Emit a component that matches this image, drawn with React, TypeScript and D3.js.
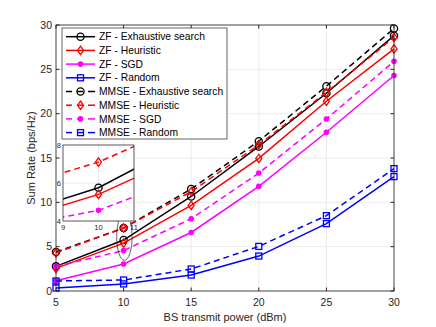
import React, { useEffect, useRef } from "react";
import * as d3 from "d3";

const power = [5, 10, 15, 20, 25, 30];

const zfExhaustive = [2.78, 5.75, 10.66, 16.3, 22.3, 28.8];
const zfHeuristic = [2.55, 5.4, 9.65, 14.95, 21.4, 27.3];
const zfSgd = [1.16, 3.04, 6.6, 11.8, 17.9, 24.3];
const zfRandom = [0.34, 0.8, 1.8, 3.94, 7.6, 12.9];
const mmseExhaustive = [4.4, 7.1, 11.5, 16.9, 23.1, 29.6];
const mmseHeuristic = [4.3, 7.1, 11.2, 16.5, 22.4, 28.6];
const mmseSgd = [2.78, 4.56, 8.15, 13.3, 19.4, 25.9];
const mmseRandom = [1.13, 1.24, 2.48, 5.03, 8.5, 13.8];

const xTicks = [5, 10, 15, 20, 25, 30];
const yTicks = [0, 5, 10, 15, 20, 25, 30];
const insetXTicks = [9, 10, 11];
const insetYTicks = [4, 6, 8];

const seriesNames = [
  "ZF - Exhaustive search",
  "ZF - Heuristic",
  "ZF - SGD",
  "ZF - Random",
  "MMSE - Exhaustive search",
  "MMSE - Heuristic",
  "MMSE - SGD",
  "MMSE - Random",
];
const seriesValues = [
  zfExhaustive,
  zfHeuristic,
  zfSgd,
  zfRandom,
  mmseExhaustive,
  mmseHeuristic,
  mmseSgd,
  mmseRandom,
];
const seriesColors = ["#000000", "#ff0000", "#ff00ff", "#0000ff", "#000000", "#ff0000", "#ff00ff", "#0000ff"];
const seriesMarkers = ["circle", "diamond", "dot", "square", "circle", "diamond", "dot", "square"];
const seriesDashed = [false, false, false, false, true, true, true, true];

type Sel = d3.Selection<SVGGElement, unknown, null, undefined>;

function drawMarker(g: Sel, kind: string, x: number, y: number, color: string) {
  if (kind === "circle") {
    g.append("circle").attr("cx", x).attr("cy", y).attr("r", 3.6)
      .attr("fill", "none").attr("stroke", color).attr("stroke-width", 1.3);
  } else if (kind === "diamond") {
    g.append("path")
      .attr("d", `M${x},${y - 4.2}L${x + 3},${y}L${x},${y + 4.2}L${x - 3},${y}Z`)
      .attr("fill", "none").attr("stroke", color).attr("stroke-width", 1.3);
  } else if (kind === "dot") {
    g.append("circle").attr("cx", x).attr("cy", y).attr("r", 2.8).attr("fill", color);
  } else {
    g.append("rect").attr("x", x - 3).attr("y", y - 3).attr("width", 6).attr("height", 6)
      .attr("fill", "none").attr("stroke", color).attr("stroke-width", 1.3);
  }
}

export default function App() {
  const ref = useRef<SVGSVGElement>(null);

  useEffect(() => {
    const svg = d3.select(ref.current);
    svg.selectAll("*").remove();
    const font = "'Liberation Sans', Arial, sans-serif";
    const axisColor = "#262626";

    const left = 56, right = 394, top = 25, bottom = 291;
    const x = d3.scaleLinear().domain([5, 30]).range([left, right]);
    const y = d3.scaleLinear().domain([0, 30]).range([bottom, top]);

    const root = svg.append("g") as unknown as Sel;

    // grid
    const grid = root.append("g").attr("stroke", "#e6e6e6").attr("stroke-width", 0.8);
    xTicks.forEach((t) => grid.append("line").attr("x1", x(t)).attr("x2", x(t)).attr("y1", top).attr("y2", bottom));
    yTicks.forEach((t) => grid.append("line").attr("x1", left).attr("x2", right).attr("y1", y(t)).attr("y2", y(t)));

    // series
    const plot = root.append("g");
    seriesValues.forEach((vals, i) => {
      const line = d3.line<number>().x((_, k) => x(power[k])).y((d) => y(d));
      plot.append("path").datum(vals).attr("d", line)
        .attr("fill", "none").attr("stroke", seriesColors[i]).attr("stroke-width", 1.5)
        .attr("stroke-dasharray", seriesDashed[i] ? "6,4" : null);
      vals.forEach((v, k) => drawMarker(plot as unknown as Sel, seriesMarkers[i], x(power[k]), y(v), seriesColors[i]));
    });

    // axes box and ticks
    const ax = root.append("g");
    ax.append("rect").attr("x", left).attr("y", top).attr("width", right - left).attr("height", bottom - top)
      .attr("fill", "none").attr("stroke", axisColor).attr("stroke-width", 0.8);
    xTicks.forEach((t) => {
      ax.append("line").attr("x1", x(t)).attr("x2", x(t)).attr("y1", bottom).attr("y2", bottom - 3.5).attr("stroke", axisColor);
      ax.append("line").attr("x1", x(t)).attr("x2", x(t)).attr("y1", top).attr("y2", top + 3.5).attr("stroke", axisColor);
      ax.append("text").attr("x", x(t)).attr("y", bottom + 15).attr("text-anchor", "middle")
        .attr("font-family", font).attr("font-size", 10.5).attr("fill", axisColor).text(t);
    });
    yTicks.forEach((t) => {
      ax.append("line").attr("x1", left).attr("x2", left + 3.5).attr("y1", y(t)).attr("y2", y(t)).attr("stroke", axisColor);
      ax.append("line").attr("x1", right).attr("x2", right - 3.5).attr("y1", y(t)).attr("y2", y(t)).attr("stroke", axisColor);
      ax.append("text").attr("x", left - 4).attr("y", y(t) + 3.8).attr("text-anchor", "end")
        .attr("font-family", font).attr("font-size", 10.5).attr("fill", axisColor).text(t);
    });
    ax.append("text").attr("x", (left + right) / 2).attr("y", 321).attr("text-anchor", "middle")
      .attr("font-family", font).attr("font-size", 11).attr("fill", axisColor).text("BS transmit power (dBm)");
    ax.append("text").attr("transform", `translate(35,${(top + bottom) / 2}) rotate(-90)`).attr("text-anchor", "middle")
      .attr("font-family", font).attr("font-size", 11).attr("fill", axisColor).text("Sum Rate (bps/Hz)");

    // ellipse and arrow
    const cx = x(10), cy = y(6.1);
    root.append("ellipse").attr("cx", cx + 0.8).attr("cy", cy).attr("rx", x(10.57) - x(10)).attr("ry", y(0) - y(2.65))
      .attr("fill", "none").attr("stroke", "#222").attr("stroke-width", 0.7);
    root.append("line").attr("x1", 117.5).attr("y1", 222).attr("x2", 108.5).attr("y2", 212)
      .attr("stroke", "#000").attr("stroke-width", 0.7);
    root.append("path").attr("d", "M105.5,208 L111,211 L107.6,214 Z").attr("fill", "#000");

    // inset
    const il = 63, ir = 134, it = 145, ib = 221;
    const ix = d3.scaleLinear().domain([9, 11]).range([il, ir]);
    const iy = d3.scaleLinear().domain([4, 8]).range([ib, it]);
    const inset = root.append("g");
    inset.append("rect").attr("x", il).attr("y", it).attr("width", ir - il).attr("height", ib - it).attr("fill", "#fff");
    const ig = inset.append("g").attr("stroke", "#e6e6e6").attr("stroke-width", 0.8);
    insetXTicks.forEach((t) => ig.append("line").attr("x1", ix(t)).attr("x2", ix(t)).attr("y1", it).attr("y2", ib));
    insetYTicks.forEach((t) => ig.append("line").attr("x1", il).attr("x2", ir).attr("y1", iy(t)).attr("y2", iy(t)));
    svg.append("defs").append("clipPath").attr("id", "insetClip").append("rect")
      .attr("x", il).attr("y", it).attr("width", ir - il).attr("height", ib - it);
    const ip = inset.append("g").attr("clip-path", "url(#insetClip)");
    [5, 0, 1, 6, 2].forEach((i) => {
      const vals = seriesValues[i];
      const line = d3.line<number>().x((_, k) => ix(power[k])).y((d) => iy(d));
      ip.append("path").datum(vals).attr("d", line)
        .attr("fill", "none").attr("stroke", seriesColors[i]).attr("stroke-width", 1.5)
        .attr("stroke-dasharray", seriesDashed[i] ? "6,4" : null);
      drawMarker(ip as unknown as Sel, seriesMarkers[i], ix(10), iy(vals[1]), seriesColors[i]);
    });
    inset.append("rect").attr("x", il).attr("y", it).attr("width", ir - il).attr("height", ib - it)
      .attr("fill", "none").attr("stroke", axisColor).attr("stroke-width", 0.7);
    insetXTicks.forEach((t) => {
      inset.append("text").attr("x", ix(t)).attr("y", ib + 9).attr("text-anchor", "middle")
        .attr("font-family", font).attr("font-size", 7.5).attr("fill", axisColor).text(t);
    });
    insetYTicks.forEach((t) => {
      inset.append("text").attr("x", il - 2).attr("y", iy(t) + 2.7).attr("text-anchor", "end")
        .attr("font-family", font).attr("font-size", 7.5).attr("fill", axisColor).text(t);
    });

    // legend
    const lg = root.append("g");
    lg.append("rect").attr("x", 62).attr("y", 28).attr("width", 165).attr("height", 111)
      .attr("fill", "#fff").attr("stroke", axisColor).attr("stroke-width", 0.7);
    seriesNames.forEach((name, i) => {
      const ly = 36.7 + i * 13.7;
      const c = seriesColors[i];
      if (seriesDashed[i]) {
        lg.append("line").attr("x1", 66).attr("x2", 72).attr("y1", ly).attr("y2", ly).attr("stroke", c).attr("stroke-width", 1.5);
        lg.append("line").attr("x1", 88).attr("x2", 95).attr("y1", ly).attr("y2", ly).attr("stroke", c).attr("stroke-width", 1.5);
        lg.append("line").attr("x1", 77).attr("x2", 83).attr("y1", ly).attr("y2", ly).attr("stroke", c).attr("stroke-width", 1.5);
      } else {
        lg.append("line").attr("x1", 66).attr("x2", 95).attr("y1", ly).attr("y2", ly).attr("stroke", c).attr("stroke-width", 1.5);
      }
      drawMarker(lg as unknown as Sel, seriesMarkers[i], 80.5, ly, c);
      lg.append("text").attr("x", 99).attr("y", ly + 3.6).attr("font-family", font).attr("font-size", 10.3)
        .attr("fill", "#000").text(name);
    });
  }, []);

  return (
    <svg ref={ref} width={436} height={327} style={{ position: "absolute", left: 0, top: 0, background: "#fff" }} />
  );
}
